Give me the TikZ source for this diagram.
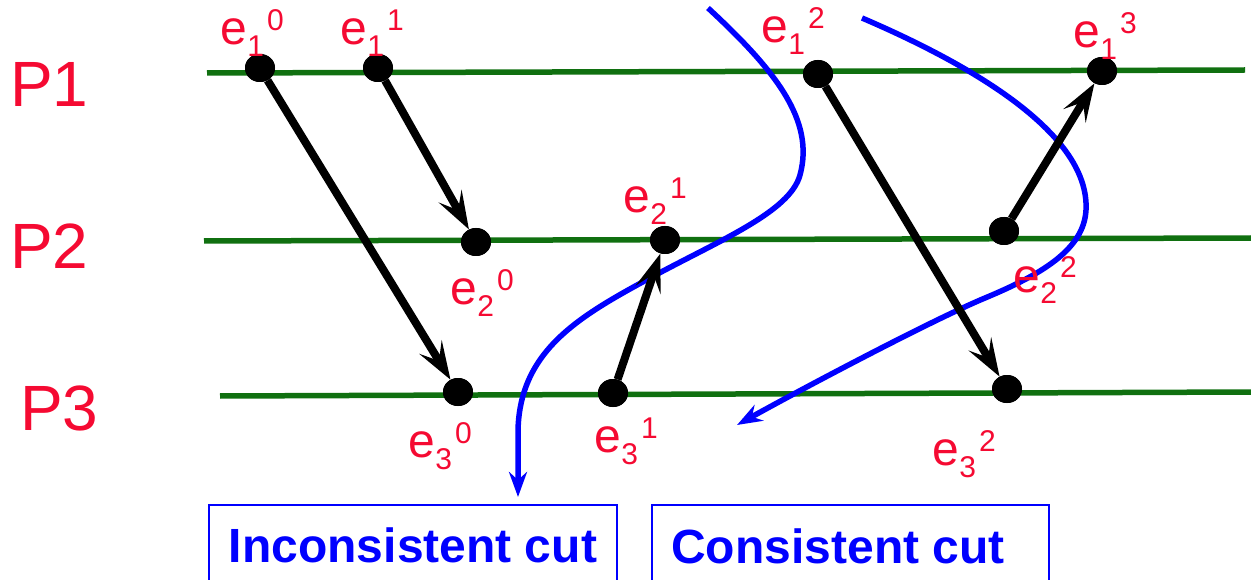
\documentclass[tikz,border=0pt]{standalone}
\usepackage{fontspec}
\setmainfont{Liberation Sans}
\usetikzlibrary{arrows.meta,shapes.geometric}
\definecolor{pgreen}{RGB}{16,112,16}
\definecolor{lred}{RGB}{245,10,50}
\definecolor{cutblue}{RGB}{0,0,255}
\newcommand{\evlab}[2]{e\kern0.5pt\raisebox{-12pt}{\fontsize{30}{30}\selectfont #1}\kern3pt\raisebox{14pt}{\fontsize{30}{30}\selectfont #2}}
\begin{document}
\begin{tikzpicture}[x=1pt,y=-1pt,
  procline/.style={pgreen, line width=5.5pt},
  evdot/.style={ellipse, fill=black, minimum width=30pt, minimum height=28pt, inner sep=0pt},
  msg/.style={black, line width=8pt, -{Stealth[length=38pt,width=26pt,inset=16pt]}},
  cutline/.style={cutblue, line width=5.5pt, -{Stealth[length=25pt,width=18pt,inset=8pt]}},
  plabel/.style={lred, anchor=base west, inner sep=0pt, font=\fontsize{64}{64}\selectfont},
  elabel/.style={lred, anchor=base west, inner sep=0pt, font=\fontsize{48}{48}\selectfont},
  boxtext/.style={cutblue, anchor=base, inner sep=0pt, font=\bfseries\fontsize{48}{48}\selectfont},
  boxline/.style={cutblue, line width=2.5pt}
]
\useasboundingbox (0,0) rectangle (1251,580);
\clip (0,0) rectangle (1251,580);

% process lines
\coordinate (p1a) at (207,73);  \coordinate (p1b) at (1245,70);
\coordinate (p2a) at (204,241); \coordinate (p2b) at (1251,238);
\coordinate (p3a) at (220,396); \coordinate (p3b) at (1251,392);
\draw[procline] (p1a) -- (p1b);
\draw[procline] (p2a) -- (p2b);
\draw[procline] (p3a) -- (p3b);

% process labels
\node[plabel] (P1) at (10,107) {P1};
\node[plabel] (P2) at (10,269) {P2};
\node[plabel] (P3) at (20,430) {P3};

% event dots
\node[evdot] (e10) at (260,68) {};
\node[evdot] (e11) at (378,68) {};
\node[evdot] (e12) at (818,74) {};
\node[evdot] (e13) at (1102,71) {};
\node[evdot] (e20) at (476,242) {};
\node[evdot] (e21) at (665,240) {};
\node[evdot] (e22) at (1004,231) {};
\node[evdot] (e30) at (458,392) {};
\node[evdot] (e31) at (613,393) {};
\node[evdot] (e32) at (1007,389) {};

% cuts
\coordinate (c1s) at (708,8);
\coordinate (c1e) at (518,497);
\draw[cutline] (c1s) .. controls (775,70) and (815,120) .. (800,175)
  .. controls (790,212) and (720,240) .. (650,278)
  .. controls (580,316) and (520,350) .. (518,430) -- (c1e);
\coordinate (c2s) at (862,18);
\coordinate (c2e) at (737,425);
\draw[cutline] (c2s) .. controls (960,60) and (1090,130) .. (1086,210)
  .. controls (1084,250) and (1040,275) .. (985,298)
  .. controls (930,321) and (800,390) .. (c2e);

% messages
\draw[msg] (e10) -- (e30);
\draw[msg] (e11) -- (e20);
\draw[msg] (e31) -- (e21);
\draw[msg] (e12) -- (e32);
\draw[msg] (e22) -- (e13);

% dots on top
\foreach \n in {e10,e11,e12,e13,e20,e21,e22,e30,e31,e32}{
  \fill[black] (\n.center) ellipse[x radius=15pt, y radius=14pt];
}

% event labels
\node[elabel] (l10) at (220,45) {\evlab{1}{0}};
\node[elabel] (l11) at (340,45) {\evlab{1}{1}};
\node[elabel] (l12) at (761,43) {\evlab{1}{2}};
\node[elabel] (l13) at (1073,48) {\evlab{1}{3}};
\node[elabel] (l20) at (450,305) {\evlab{2}{0}};
\node[elabel] (l21) at (623,213) {\evlab{2}{1}};
\node[elabel] (l22) at (1013,292) {\evlab{2}{2}};
\node[elabel] (l30) at (408,457) {\evlab{3}{0}};
\node[elabel] (l31) at (594,452) {\evlab{3}{1}};
\node[elabel] (l32) at (932,465) {\evlab{3}{2}};

% boxes
\node[boxtext] (inc) at (413,562) {Inconsistent cut};
\node[boxtext] (con) at (838,563) {Consistent cut};
\draw[boxline] (209,590) |- (617,505) -- (617,590);
\draw[boxline] (652,590) |- (1049,505) -- (1049,590);
\end{tikzpicture}
\end{document}
